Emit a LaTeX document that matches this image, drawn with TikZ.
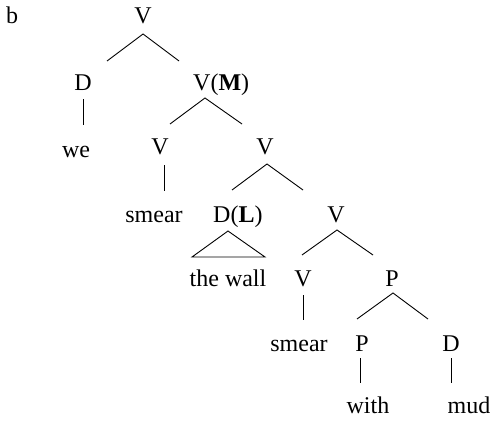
\documentclass[tikz,border=0pt]{standalone}
\usepackage{fontspec}
\setmainfont{Liberation Serif}
\begin{document}
\begin{tikzpicture}[x=1pt,y=-1pt,
  lab/.style={anchor=base,inner sep=0pt,font=\fontsize{24}{28}\selectfont},
  labw/.style={anchor=base west,inner sep=0pt,font=\fontsize{24}{28}\selectfont},
  edge/.style={line width=0.9pt,line cap=butt}]
\useasboundingbox (0,0) rectangle (492,420);
% nodes
\node[lab] (b) at (12,24) {b};
\node[lab] (v1) at (143,24) {V};
\node[lab] (d1) at (83,90) {D};
\node[labw] (vm) at (193,90) {V(\textbf{M})};
\node[lab] (we) at (76,157) {we};
\node[lab] (v2) at (160,154) {V};
\node[lab] (v3) at (265,154) {V};
\node[lab] (sm1) at (154,222) {smear};
\node[labw] (dl) at (213,222) {D(\textbf{L})};
\node[lab] (v4) at (336,222) {V};
\node[lab] (wall) at (228,286) {the wall};
\node[lab] (v5) at (303,286) {V};
\node[lab] (p1) at (392,286) {P};
\node[lab] (sm2) at (299,351) {smear};
\node[lab] (p2) at (362,351) {P};
\node[lab] (d2) at (451,351) {D};
\node[lab] (with) at (368,413) {with};
\node[lab] (mud) at (469,413) {mud};
% branches
\draw[edge] ([shift={(24,-29)}]d1.base) -- ([shift={(0,10)}]v1.base) -- ([shift={(-14,-29)}]vm.base west);
\draw[edge] ([shift={(10,-30)}]v2.base) -- ([shift={(12,8)}]vm.base west) -- ([shift={(-23,-30)}]v3.base);
\draw[edge] ([shift={(19,-32)}]dl.base west) -- ([shift={(2,10)}]v3.base) -- ([shift={(-33,-32)}]v4.base);
\draw[edge] ([shift={(-1,-31)}]v5.base) -- ([shift={(1,8)}]v4.base) -- ([shift={(-19,-31)}]p1.base);
\draw[edge] ([shift={(-5,-32)}]p2.base) -- ([shift={(1,7)}]p1.base) -- ([shift={(-23,-32)}]d2.base);
% unary
\draw[edge] ([shift={(0,9)}]d1.base) -- ([shift={(7,-32)}]we.base);
\draw[edge] ([shift={(4,11)}]v2.base) -- ([shift={(10,-31)}]sm1.base);
\draw[edge] ([shift={(0,9)}]v5.base) -- ([shift={(4,-31)}]sm2.base);
\draw[edge] ([shift={(-2,7)}]p2.base) -- ([shift={(-8,-30)}]with.base);
\draw[edge] ([shift={(0,7)}]d2.base) -- ([shift={(-18,-30)}]mud.base);
% triangle
\draw[edge,line join=miter] ([shift={(15,9)}]dl.base west) -- ([shift={(-36,-29)}]wall.base) -- ([shift={(37,-29)}]wall.base) -- cycle;
\end{tikzpicture}
\end{document}
